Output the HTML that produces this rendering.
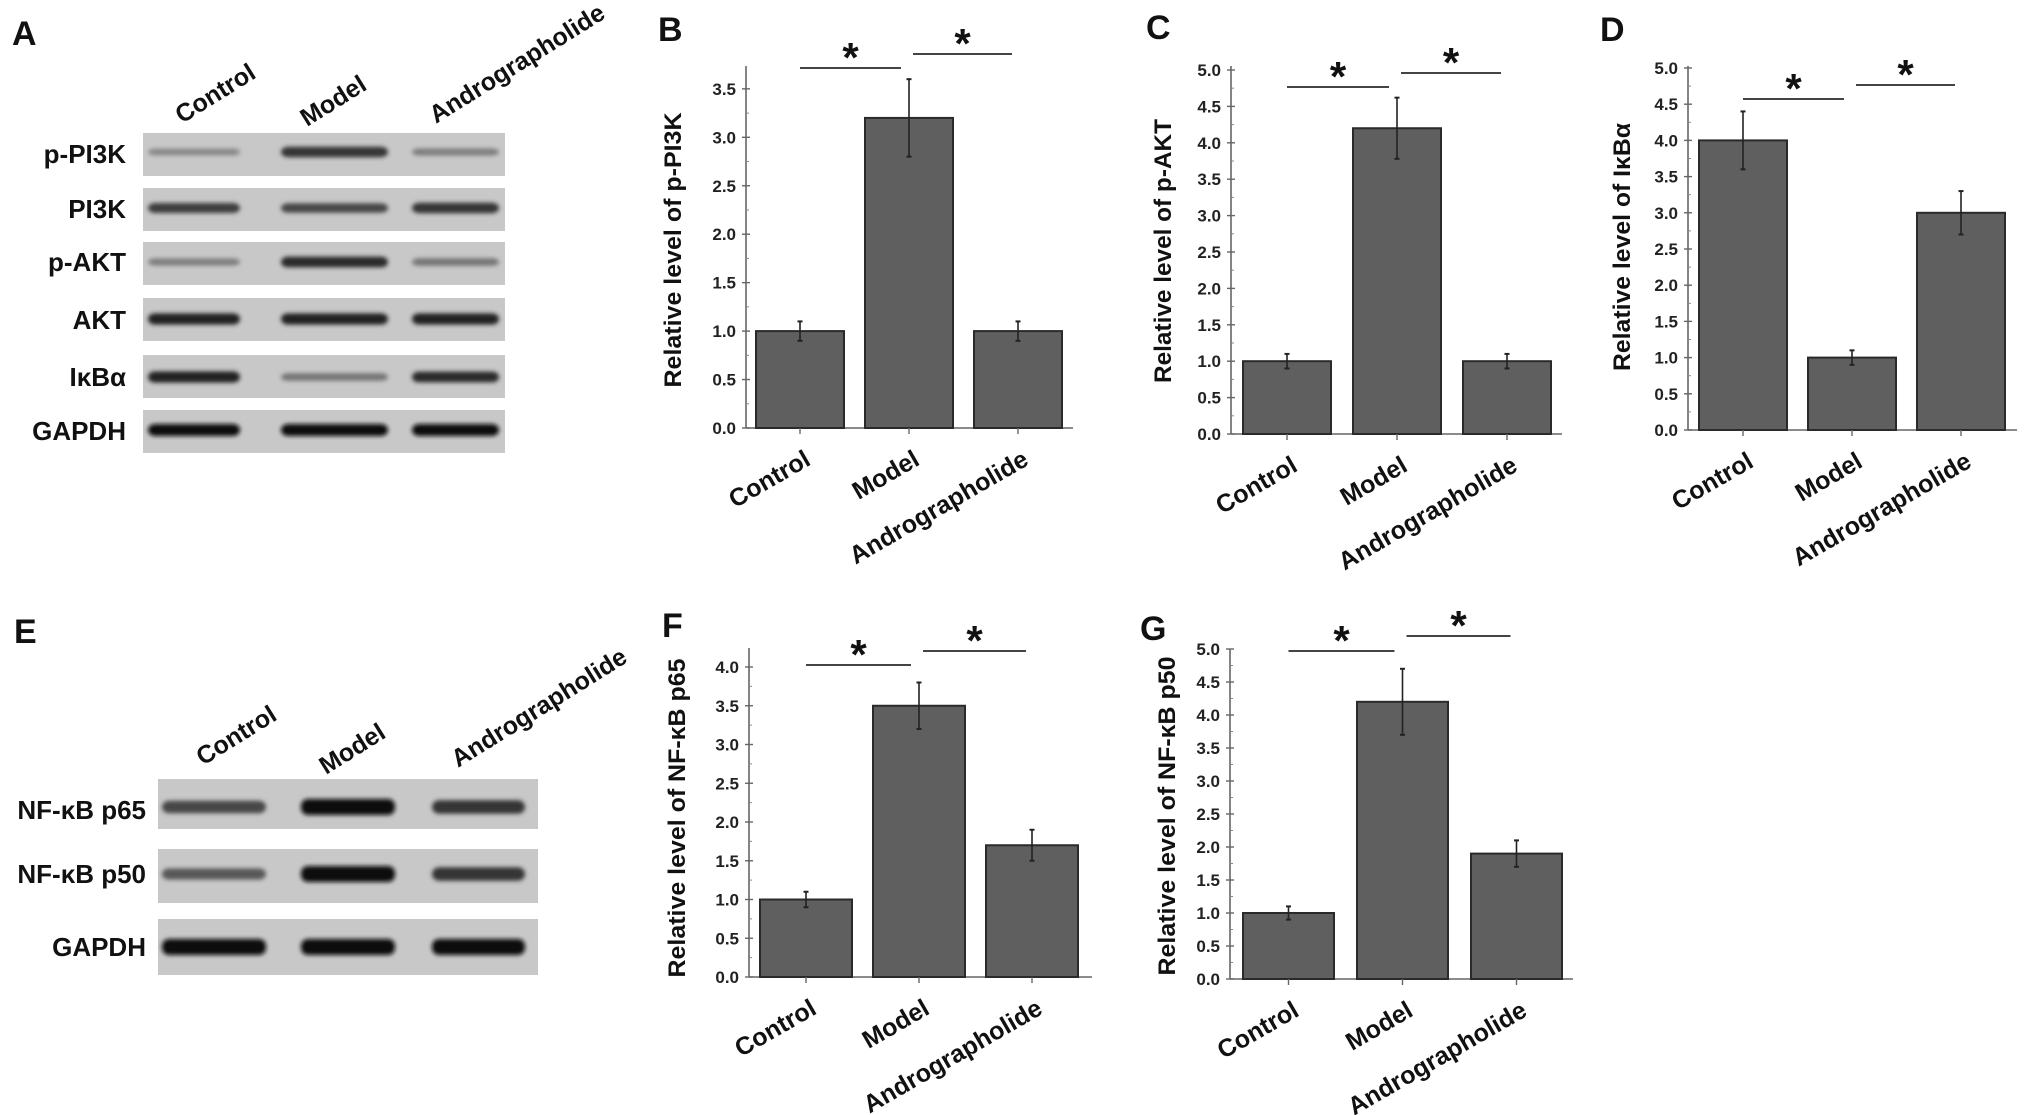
<!DOCTYPE html>
<html><head><meta charset="utf-8"><title>Andrographolide western blot figure</title>
<style>
html,body{margin:0;padding:0;background:#fff;}
svg{display:block;font-family:"Liberation Sans",Arial,sans-serif;font-weight:bold;}
</style></head>
<body>
<svg id="fig" width="2031" height="1115" viewBox="0 0 2031 1115" xmlns="http://www.w3.org/2000/svg">
<defs>
<filter id="blur" x="-20%" y="-100%" width="140%" height="300%"><feGaussianBlur stdDeviation="2.2"/></filter>
</defs>
<rect x="0" y="0" width="2031" height="1115" fill="#fff"/>
</svg>
<script>
const categories = ["Control", "Model", "Andrographolide"];
const valuesB = [1.0, 3.2, 1.0];
const errorsB = [0.1, 0.4, 0.1];
const valuesC = [1.0, 4.2, 1.0];
const errorsC = [0.1, 0.42, 0.1];
const valuesD = [4.0, 1.0, 3.0];
const errorsD = [0.4, 0.1, 0.3];
const valuesF = [1.0, 3.5, 1.7];
const errorsF = [0.1, 0.3, 0.2];
const valuesG = [1.0, 4.2, 1.9];
const errorsG = [0.1, 0.5, 0.2];
const ticksB = [0, 0.5, 1.0, 1.5, 2.0, 2.5, 3.0, 3.5];
const ticks5 = [0, 0.5, 1.0, 1.5, 2.0, 2.5, 3.0, 3.5, 4.0, 4.5, 5.0];
const ticksF = [0, 0.5, 1.0, 1.5, 2.0, 2.5, 3.0, 3.5, 4.0];
const blotRowsA = ["p-PI3K", "PI3K", "p-AKT", "AKT", "IκBα", "GAPDH"];
const bandIntensityA = [[0.35, 0.8, 0.4], [0.75, 0.7, 0.8], [0.4, 0.85, 0.45], [0.9, 0.9, 0.9], [0.9, 0.45, 0.85], [1, 1, 1]];
const blotRowsE = ["NF-κB p65", "NF-κB p50", "GAPDH"];
const bandIntensityE = [[0.7, 1, 0.8], [0.6, 1, 0.8], [1, 1, 1]];

const NS = "http://www.w3.org/2000/svg";
const svg = document.getElementById("fig");
function mk(tag, attrs, parent) {
  const e = document.createElementNS(NS, tag);
  for (const k in attrs) e.setAttribute(k, attrs[k]);
  (parent || svg).appendChild(e);
  return e;
}

[["A",12,45],["B",658,41],["C",1146,39],["D",1600,41],["E",14,643],["F",662,637],["G",1140,640]].forEach(p => {
  const t = mk("text", {x:p[1], y:p[2], "font-size":34, fill:"#111"});
  t.textContent = p[0];
  
  
});

function blot(cfg, rows, intens) {
  const g = mk("g", {});
  
  
  cfg.lanes.forEach((ln, i) => {
    const t = mk("text", {x:ln[0], y:ln[1], "font-size":25, fill:"#111", transform:`rotate(-32 ${ln[0]} ${ln[1]})`}, g);
    t.textContent = categories[i];
    
    
  });
  rows.forEach((r, ri) => {
    const top = cfg.tops[ri];
    const lab = mk("text", {x:cfg.labelX, y:cfg.baselines[ri], "font-size":26, fill:"#111", "text-anchor":"end"}, g);
    lab.textContent = r;
    
    
    const strip = mk("rect", {x:cfg.x0, y:top, width:cfg.x1 - cfg.x0, height:cfg.h[ri], fill:"#c8c8c8"}, g);
    
    
    const cy = top + cfg.bandOff[ri];
    cfg.laneX.forEach((lx, li) => {
      const v = intens[ri][li];
      const shade = Math.round(200 - v * 185);
      const b = mk("rect", {x:lx[0], y:cy - (2 + v * cfg.bw), width:lx[1] - lx[0], height:(4 + v * 2 * cfg.bw), rx:7, fill:`rgb(${shade},${shade},${shade})`, filter:"url(#blur)"}, g);
      
      
    });
  });
}

blot({name:"blot-panel-a", x0:143, x1:505,
  tops:[133,188,242,298,355,410], h:[43,43,43,43,43,43],
  bandOff:[19,20,20,21,22,20], bw:4,
  baselines:[163,218,271,329,386,440], labelX:126,
  laneX:[[148,240],[281,388],[412,499]],
  lanes:[[182,124],[307,127],[436,124]]}, blotRowsA, bandIntensityA);

blot({name:"blot-panel-e", x0:158, x1:538,
  tops:[779,849,919], h:[50,54,56],
  bandOff:[28,25,28], bw:6,
  baselines:[819,883,956], labelX:146,
  laneX:[[162,266],[301,395],[432,525]],
  lanes:[[203,766],[326,775],[458,768]]}, blotRowsE, bandIntensityE);

function chart(cfg, vals, errs, ticks) {
  const g = mk("g", {});
  
  
  const y = v => cfg.y0 - v * cfg.unit;
  const cx = i => cfg.x0 + cfg.gap + i * cfg.pitch + cfg.w / 2;
  const ya = mk("line", {x1:cfg.x0, y1:cfg.top, x2:cfg.x0, y2:cfg.y0, stroke:"#666", "stroke-width":1.6}, g);
  
  
  const xa = mk("line", {x1:cfg.x0, y1:cfg.y0, x2:cfg.right, y2:cfg.y0, stroke:"#666", "stroke-width":1.6}, g);
  
  
  ticks.forEach((t, i) => {
    const tk = mk("line", {x1:cfg.x0 - 4, y1:y(t), x2:cfg.x0 + 4, y2:y(t), stroke:"#666", "stroke-width":1.4}, g);
    
    
    if (i < ticks.length - 1) {
      const mt = mk("line", {x1:cfg.x0, y1:y(t + 0.25), x2:cfg.x0 + 3, y2:y(t + 0.25), stroke:"#888", "stroke-width":1}, g);
      
      
    }
    const lb = mk("text", {x:cfg.x0 - 10, y:y(t) + 6, "font-size":17, "text-anchor":"end", fill:"#222"}, g);
    lb.textContent = t.toFixed(1);
    
    
  });
  const tt = mk("text", {x:cfg.titleX, y:cfg.titleY, "font-size":24, "text-anchor":"middle", fill:"#111", textLength:cfg.titleLen, lengthAdjust:"spacingAndGlyphs", transform:`rotate(-90 ${cfg.titleX} ${cfg.titleY})`}, g);
  tt.textContent = cfg.title;
  
  
  vals.forEach((v, i) => {
    const c = cx(i);
    const bar = mk("rect", {x:c - cfg.w / 2, y:y(v), width:cfg.w, height:y(0) - y(v), fill:"#5f5f5f", stroke:"#2a2a2a", "stroke-width":2}, g);
    
    
    const eb = mk("line", {x1:c, y1:y(v + errs[i]), x2:c, y2:y(v - errs[i]), stroke:"#222", "stroke-width":1.6}, g);
    
    
    [v + errs[i], v - errs[i]].forEach(ev => {
      const cap = mk("line", {x1:c - 2.5, y1:y(ev), x2:c + 2.5, y2:y(ev), stroke:"#222", "stroke-width":2}, g);
      
      
    });
    const xt = mk("line", {x1:c, y1:cfg.y0, x2:c, y2:cfg.y0 + 6, stroke:"#666", "stroke-width":1.4}, g);
    
    
    const lx = c + 12, ly = cfg.y0 + 36;
    const xl = mk("text", {x:lx, y:ly, "font-size":25, "text-anchor":"end", fill:"#111", transform:`rotate(-30 ${lx} ${ly})`}, g);
    xl.textContent = categories[i];
    
    
  });
  const sig = [[cx(0), cx(1) - 8, cfg.sig1], [cx(1) + 4, cx(2) - 6, cfg.sig2]];
  sig.forEach(s => {
    const ln = mk("line", {x1:s[0], y1:s[2], x2:s[1], y2:s[2], stroke:"#444", "stroke-width":2}, g);
    
    
    const st = mk("text", {x:(s[0] + s[1]) / 2, y:s[2] + 4, "font-size":42, "text-anchor":"middle", fill:"#111"}, g);
    st.textContent = "*";
    
    
  });
}

chart({name:"chart-b-p-pi3k", x0:746, y0:428, unit:96.9, top:66, right:1073, gap:10, pitch:109, w:88,
  title:"Relative level of p-PI3K", titleX:681, titleY:250, titleLen:275, sig1:68, sig2:54}, valuesB, errorsB, ticksB);
chart({name:"chart-c-p-akt", x0:1231, y0:434, unit:72.8, top:66, right:1562, gap:12, pitch:110, w:88,
  title:"Relative level of p-AKT", titleX:1171, titleY:251, titleLen:264, sig1:87, sig2:73}, valuesC, errorsC, ticks5);
chart({name:"chart-d-ikba", x0:1688, y0:430, unit:72.4, top:66, right:2017, gap:11, pitch:109, w:88,
  title:"Relative level of IκBα", titleX:1630, titleY:247, titleLen:248, sig1:99, sig2:85}, valuesD, errorsD, ticks5);
chart({name:"chart-f-p65", x0:749, y0:977, unit:77.5, top:648, right:1092, gap:11, pitch:113, w:92,
  title:"Relative level of NF-κB p65", titleX:685, titleY:818, titleLen:319, sig1:665, sig2:651}, valuesF, errorsF, ticksF);
chart({name:"chart-g-p50", x0:1230, y0:979, unit:66, top:649, right:1573, gap:13, pitch:114, w:91,
  title:"Relative level of NF-κB p50", titleX:1175, titleY:816, titleLen:319, sig1:651, sig2:636}, valuesG, errorsG, ticks5);
</script>
</body></html>
